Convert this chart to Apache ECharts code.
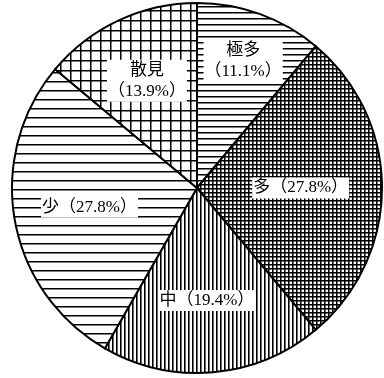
<!DOCTYPE html>
<html>
<head>
<meta charset="utf-8">
<script src="https://cdn.jsdelivr.net/npm/echarts@6/dist/echarts.min.js"></script>
<style>
  html, body { margin: 0; padding: 0; background: #fff; }
  #chart { width: 384px; height: 378px; }
</style>
</head>
<body>
<div id="chart"></div>
<script>
// slice names and shares (%), clockwise from 12 o'clock
const categories = ['極多', '多', '中', '少', '散見'];
const shares = [11.1, 27.8, 19.4, 27.8, 13.9];
// names whose label breaks onto two lines
const stackedLabels = ['極多', '散見'];

// hatch tiles drawn on small canvases
function hatch(kind, step, lw) {
  const c = document.createElement('canvas');
  c.width = step; c.height = step;
  const g = c.getContext('2d');
  g.fillStyle = '#fff';
  g.fillRect(0, 0, step, step);
  g.fillStyle = '#000';
  if (kind === 'h' || kind === 'grid') g.fillRect(0, 0, step, lw);
  if (kind === 'v' || kind === 'grid') g.fillRect(0, 0, lw, step);
  return { image: c, repeat: 'repeat' };
}
const patterns = [
  hatch('h', 6, 1.5),    // 極多
  hatch('grid', 4, 1.5), // 多
  hatch('v', 4, 1.6),    // 中
  hatch('h', 9, 1.5),    // 少
  hatch('grid', 10, 1.5) // 散見
];
// how far out (fraction of radius) each label sits
const labelRadius = [0.73, 0.56, 0.61, 0.59, 0.64];

const cx = 197, cy = 188, R = 185;
const total = shares.reduce((a, b) => a + b, 0);
const mids = [];
let acc = 0;
shares.forEach(v => {
  mids.push(90 - (acc + v / 2) / total * 360);
  acc += v;
});

const chart = echarts.init(document.getElementById('chart'));
chart.setOption({
  backgroundColor: '#fff',
  animation: false,
  series: [{
    type: 'pie',
    center: [cx, cy],
    radius: [0, R],
    startAngle: 90,
    clockwise: true,
    avoidLabelOverlap: false,
    data: categories.map((name, i) => ({
      name, value: shares[i],
      itemStyle: { color: patterns[i] }
    })),
    itemStyle: { borderColor: '#000', borderWidth: 2 },
    emphasis: { disabled: true },
    label: {
      position: 'inside',
      color: '#000',
      fontSize: 17,
      lineHeight: 21,
      fontFamily: "'Liberation Serif', 'Noto Sans CJK JP', serif",
      backgroundColor: '#fff',
      padding: [0, 1],
      align: 'center',
      formatter: p => stackedLabels.includes(p.name)
        ? p.name + '\n（' + p.value + '%）'
        : p.name + '（' + p.value + '%）'
    },
    labelLine: { show: false },
    labelLayout: p => {
      const i = p.dataIndex;
      const a = mids[i] * Math.PI / 180;
      return {
        x: cx + Math.cos(a) * R * labelRadius[i],
        y: cy - Math.sin(a) * R * labelRadius[i],
        align: 'center',
        verticalAlign: 'middle'
      };
    }
  }]
});
</script>
</body>
</html>
